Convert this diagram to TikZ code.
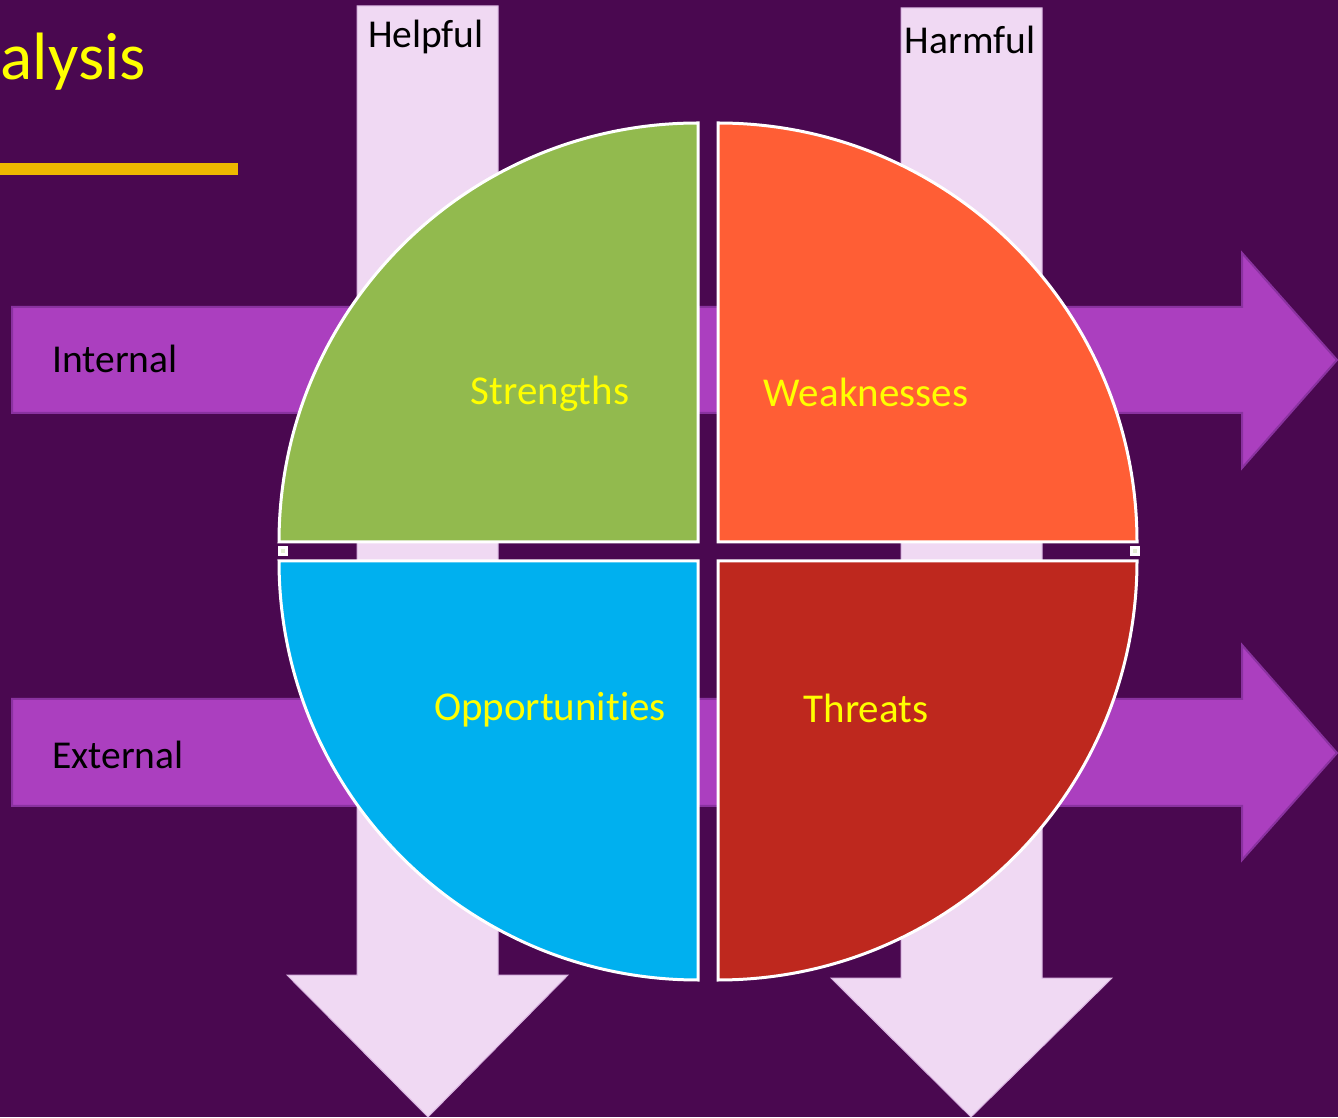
\documentclass[tikz,border=0pt]{standalone}
\usepackage{fontspec}
\setmainfont[RawFeature=-liga]{Carlito}
\definecolor{bgpurple}{HTML}{4A0850}
\definecolor{arrowpurple}{HTML}{AB3FBF}
\definecolor{arrowedge}{HTML}{8A32A0}
\definecolor{pinkarrow}{HTML}{F0D9F3}
\definecolor{pinkedge}{HTML}{D8B4E0}
\definecolor{sgreen}{HTML}{92BA4E}
\definecolor{worange}{HTML}{FF5E35}
\definecolor{oblue}{HTML}{00B0EF}
\definecolor{tred}{HTML}{BE281E}
\definecolor{titleyellow}{HTML}{FFFF00}
\definecolor{lineyellow}{HTML}{EDB800}
\tikzset{
  downarrow/.style={fill=pinkarrow, draw=pinkedge, line width=1pt},
  sidearrow/.style={fill=arrowpurple, draw=arrowedge, line width=2pt},
  quadrant/.style={draw=white, line width=3pt, line join=miter},
  quadlabel/.style={text=titleyellow, font=\fontsize{41}{48}\selectfont, inner sep=0pt},
  blacklabel/.style={text=black, font=\fontsize{39.5}{46}\selectfont, inner sep=0pt},
  handle/.style={fill=white, draw=white, line width=1pt}
}
\begin{document}
\begin{tikzpicture}[x=1pt,y=1pt]
\useasboundingbox (0,0) rectangle (1338,1117);
\fill[bgpurple] (0,0) rectangle (1338,1117);
% title
\node[text=titleyellow, font=\fontsize{67}{80}\selectfont, anchor=base east, inner sep=0pt] (title) at (146,1037) {alysis};
\fill[lineyellow] (0,942) rectangle (238,954);
% down arrows
\draw[downarrow] (357,1111) -- (498,1111) -- (498,142) -- (568,142) -- (428,0) -- (287,142) -- (357,142) -- cycle;
\draw[downarrow] (901,1109) -- (1042,1109) -- (1042,139) -- (1112,139) -- (971,0) -- (831,139) -- (901,139) -- cycle;
% side arrows
\draw[sidearrow] (12,810) -- (1242,810) -- (1242,864) -- (1337,757) -- (1242,649) -- (1242,704) -- (12,704) -- cycle;
\draw[sidearrow] (12,418) -- (1242,418) -- (1242,472) -- (1337,364) -- (1242,257) -- (1242,311) -- (12,311) -- cycle;
% labels on arrows
\node[blacklabel, anchor=center] (helpful) at (426,1080) {Helpful};
\node[blacklabel, anchor=center] (harmful) at (970,1077) {Harmful};
\node[blacklabel, anchor=west] (internal) at (52,758) {Internal};
\node[blacklabel, anchor=west] (external) at (52,362) {External};
% quadrants
\filldraw[quadrant, fill=sgreen] (698,575) -- ++(-419,0) arc[start angle=180, end angle=90, radius=419] -- cycle;
\filldraw[quadrant, fill=worange] (718,575) -- ++(0,419) arc[start angle=90, end angle=0, radius=419] -- cycle;
\filldraw[quadrant, fill=oblue] (698,556) -- ++(-419,0) arc[start angle=180, end angle=270, radius=419] -- cycle;
\filldraw[quadrant, fill=tred] (718,556) -- ++(419,0) arc[start angle=0, end angle=-90, radius=419] -- cycle;
% handles
\filldraw[handle] (278,561) rectangle (287,570);
\fill[sgreen!25!white] (280.5,563.5) rectangle (284.5,567.5);
\filldraw[handle] (1130,561) rectangle (1139,570);
\fill[sgreen!25!white] (1132.5,563.5) rectangle (1136.5,567.5);
% quadrant labels
\node[quadlabel] (strengths) at (550,723) {Strengths};
\node[quadlabel] (weaknesses) at (866,725) {Weaknesses};
\node[quadlabel] (opportunities) at (550,407) {Opportunities};
\node[quadlabel] (threats) at (866,409) {Threats};
\end{tikzpicture}
\end{document}
